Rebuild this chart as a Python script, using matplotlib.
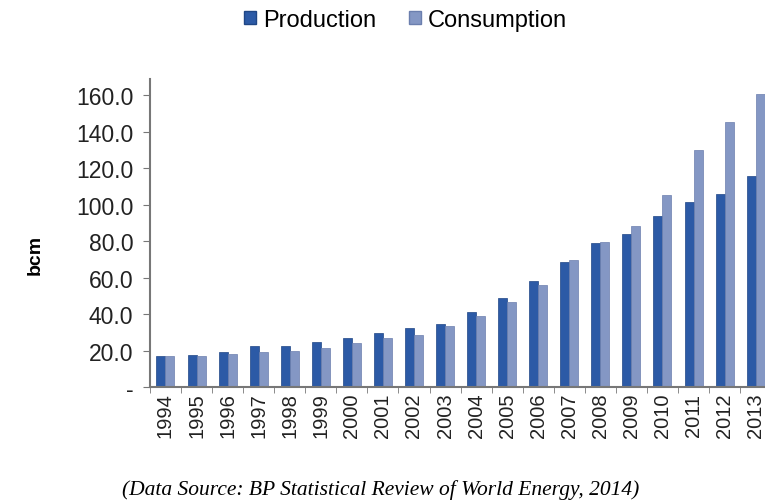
import numpy as np
import matplotlib.pyplot as plt
from matplotlib.patches import Patch

years = [str(y) for y in range(1994, 2014)]
production = [17.0, 17.4, 19.3, 22.3, 22.6, 24.8, 27.0, 29.6, 32.1, 34.4,
              41.3, 48.6, 58.1, 68.7, 78.9, 83.7, 93.5, 101.2, 105.6, 115.5]
consumption = [16.8, 17.2, 17.9, 19.0, 19.7, 21.2, 24.1, 27.0, 28.5, 33.2,
               39.1, 46.4, 55.9, 69.8, 79.3, 88.0, 105.2, 129.7, 145.4, 160.7]
yticks = [0, 20, 40, 60, 80, 100, 120, 140, 160]
ytick_labels = ['-', '20.0', '40.0', '60.0', '80.0', '100.0', '120.0', '140.0', '160.0']

prod_color = '#2c5aa6'
cons_color = '#8497c4'

plt.rcParams['font.family'] = ['Liberation Sans', 'DejaVu Sans']

fig = plt.figure(figsize=(7.65, 5.02), dpi=100)
ax = fig.add_axes([0.196, 0.227, 0.804, 0.6135])

x = np.arange(len(years))
w = 0.29
ax.bar(x - w / 2, production, w, color=prod_color, edgecolor='#1f4685', linewidth=0.5)
ax.bar(x + w / 2, consumption, w, color=cons_color, edgecolor='#6b7fae', linewidth=0.5)

ax.set_xlim(-0.5, 19.3)
ax.set_ylim(0, 168.8)

ax.set_yticks(yticks)
ax.set_yticklabels(ytick_labels, fontsize=16.5, color='#222222')
ax.set_xticks(x)
ax.set_xticklabels(years, rotation=90, fontsize=14.5, color='#222222')
ax.tick_params(axis='x', length=0, pad=4)
ax.set_xticks(np.arange(-0.5, 19.5, 1), minor=True)
ax.tick_params(axis='x', which='minor', length=4, color='#777777', direction='out')
ax.tick_params(axis='y', length=5, color='#777777', direction='out', pad=7)

for s in ['top', 'right']:
    ax.spines[s].set_visible(False)
for s in ['left', 'bottom']:
    ax.spines[s].set_color('#777777')
    ax.spines[s].set_linewidth(1.5)

fig.text(0.046, 0.492, 'bcm', rotation=90, fontsize=14, fontweight='bold',
         ha='center', va='center')

handles = [Patch(facecolor=prod_color, edgecolor='#1f4685', label='Production'),
           Patch(facecolor=cons_color, edgecolor='#6b7fae', label='Consumption')]
fig.legend(handles=handles, loc='center', bbox_to_anchor=(0.53, 0.958), ncol=2,
           frameon=False, fontsize=17, handlelength=0.5, handleheight=0.5,
           handletextpad=0.3, columnspacing=1.4)

fig.text(0.498, 0.024, '(Data Source: BP Statistical Review of World Energy, 2014)',
         fontsize=15.5, style='italic', family='Liberation Serif', ha='center', va='center')

fig.savefig('out.png', dpi=100)
